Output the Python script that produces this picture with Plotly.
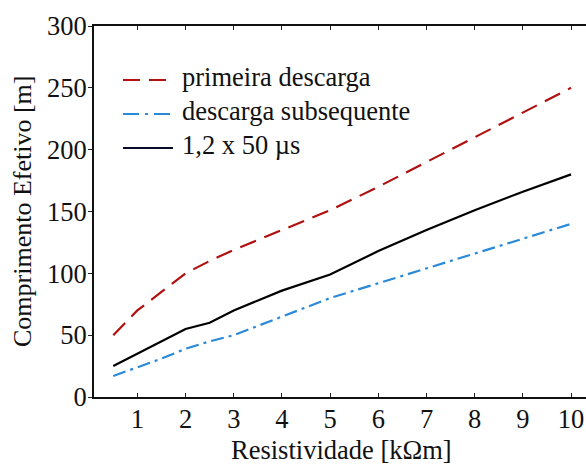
import plotly.graph_objects as go

# Resistividade do solo [kΩm]
resistividade = [0.5, 1, 1.5, 2, 2.5, 3, 4, 5, 6, 7, 8, 9, 10]

# Comprimento efetivo [m] para cada forma de onda
primeira_descarga = [50, 70, 85, 100, 110, 119, 135, 151, 170, 190, 210, 230, 250]
descarga_subsequente = [17, 24, 31, 39, 45, 50, 65, 80, 92, 104, 116, 128, 140]
onda_1_2x50 = [25, 35, 45, 55, 60, 70, 86, 99, 118, 135, 151, 166, 180]

x_ticks = [1, 2, 3, 4, 5, 6, 7, 8, 9, 10]
y_ticks = [0, 50, 100, 150, 200, 250, 300]

FONT = "Times New Roman, Liberation Serif, serif"
FS = 26.5
RED = "#b01010"
BLUE = "#2a8ad8"
BLACK = "#000000"

series = [
    ("primeira descarga", primeira_descarga, RED, "17px,9px"),
    ("descarga subsequente", descarga_subsequente, BLUE, "13px,5px,3px,5px"),
    ("1,2 x 50 \u00b5s", onda_1_2x50, BLACK, "solid"),
]

fig = go.Figure()
for name, vals, color, dash in series:
    fig.add_trace(go.Scatter(
        x=resistividade, y=vals, mode="lines", name=name,
        line=dict(color=color, width=2.2, dash=dash),
        showlegend=False,
    ))

# Plot area geometry in pixels (used for the hand-drawn legend and titles)
W, H = 586, 466
ML, MR, MT, MB = 94, 0, 26, 69
PW, PH = W - ML - MR, H - MT - MB

def px_x(px):
    return (px - ML) / PW

def px_y(py):
    return (H - MB - py) / PH

shapes = []
annotations = []
legend_rows = [80, 114, 148]
legend_dash = ["17px,9px", "16px,6px,3px,6px", "solid"]
legend_colors = [RED, BLUE, "#0a0a28"]
for (name, _, _, _), row, d, c in zip(series, legend_rows, legend_dash, legend_colors):
    shapes.append(dict(
        type="line", xref="paper", yref="paper",
        x0=px_x(123), x1=px_x(173), y0=px_y(row), y1=px_y(row),
        line=dict(color=c, width=2.2, dash=d),
    ))
    annotations.append(dict(
        text=name, xref="paper", yref="paper",
        x=px_x(180), y=px_y(row - 3), xanchor="left", yanchor="middle",
        showarrow=False, font=dict(family=FONT, size=FS, color="#111"),
    ))

annotations.append(dict(
    text="Resistividade [k\u03a9m]", xref="paper", yref="paper",
    x=px_x(341), y=px_y(450), xanchor="center", yanchor="middle",
    showarrow=False, font=dict(family=FONT, size=FS, color="#111"),
))
annotations.append(dict(
    text="Comprimento Efetivo [m]", xref="paper", yref="paper",
    x=px_x(22), y=px_y(211), xanchor="center", yanchor="middle",
    textangle=-90, showarrow=False, font=dict(family=FONT, size=26, color="#111"),
))

fig.update_layout(
    width=W, height=H,
    margin=dict(l=ML, r=MR, t=MT, b=MB),
    paper_bgcolor="white", plot_bgcolor="white",
    font=dict(family=FONT, size=FS, color="#111"),
    shapes=shapes, annotations=annotations,
    showlegend=False,
)
fig.update_xaxes(
    range=[0.1, 10.31], tickvals=x_ticks, ticktext=[str(t) for t in x_ticks],
    ticks="inside", ticklen=4, tickwidth=1, tickcolor="#222",
    showline=True, linecolor="#111", linewidth=2, mirror="ticks",
    showgrid=False, zeroline=False, ticklabelstandoff=-3,
)
fig.update_yaxes(
    range=[0, 300], tickvals=y_ticks, ticktext=[str(t) for t in y_ticks],
    ticks="outside", ticklen=4, tickwidth=1, tickcolor="#222",
    showline=True, linecolor="#111", linewidth=2, mirror=False,
    showgrid=False, zeroline=False, ticklabelstandoff=-4,
)

fig.write_html("out.html")
